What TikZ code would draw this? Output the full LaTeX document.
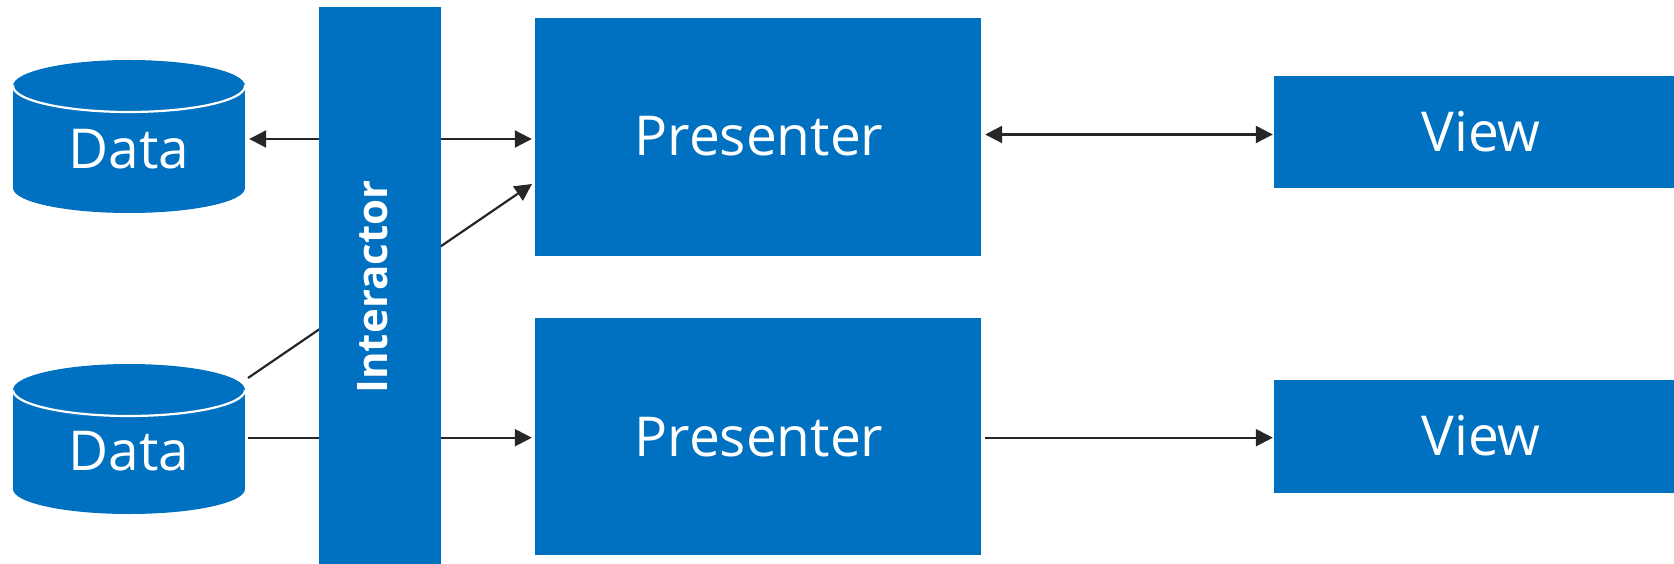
\documentclass[tikz,border=0pt]{standalone}
\usepackage{fontspec}
\setmainfont{Open Sans}
\usetikzlibrary{arrows.meta,calc}
\definecolor{mblue}{HTML}{0070C0}
\tikzset{
  box/.style={fill=mblue, inner sep=0pt, text=white},
  lbl/.style={text=white, font=\fontsize{55}{60}\selectfont, inner sep=0pt},
  conn/.style={line width=2.2pt, draw=black!85, arrows={-Triangle[length=17pt,width=17pt]}},
  dconn/.style={line width=2.2pt, draw=black!85, arrows={Triangle[length=17pt,width=17pt]-Triangle[length=17pt,width=17pt]}},
}
\newcommand{\mycyl}[5]{% name, xl, xr, ytop, ybot
  \node[inner sep=0pt, minimum width={#3-#2}, minimum height={#5-#4}] (#1) at ({(#2+#3)/2},{(#4+#5)/2}) {};
  \fill[mblue] (#2,{#4+26}) rectangle (#3,{#5-25});
  \fill[mblue] ({(#2+#3)/2},{#5-25}) ellipse ({(#3-#2)/2} and 25);
  \fill[mblue] ({(#2+#3)/2},{#4+26}) ellipse ({(#3-#2)/2} and 26);
  \begin{scope}
    \clip ({#2-3},{#4+26}) rectangle ({#3+3},{#4+60});
    \draw[white, line width=2.2pt] ({(#2+#3)/2},{#4+26}) ellipse ({(#3-#2)/2} and 26);
  \end{scope}
}
\begin{document}
\begin{tikzpicture}[x=1pt,y=-1pt]
\useasboundingbox (0,0) rectangle (1674,564);
% cylinders
\mycyl{d1}{13}{245}{60}{213}
\mycyl{d2}{13}{245}{364}{514}
\node[lbl] at (129,149) {Data};
\node[lbl] at (129,451) {Data};
% presenters and views
\node[box, minimum width=446pt, minimum height=238pt] (p1) at (758,137) {};
\node[lbl] at (759,136) {Presenter};
\node[box, minimum width=446pt, minimum height=237pt] (p2) at (758,436.5) {};
\node[lbl] at (759,437) {Presenter};
\node[box, minimum width=414pt, minimum height=112pt] (v1) at (1481,132) {};
\node[lbl] at (1481,132) {View};
\node[box, minimum width=414pt, minimum height=113pt] (v2) at (1481,436.5) {};
\node[lbl] at (1481,436) {View};
% connector endpoints
\coordinate (a1) at ($(d1.east)+(4,2.5)$);
\coordinate (b1) at ($(p1.west)+(-3,2)$);
\coordinate (a2) at (248,378);
\coordinate (b2) at (532,184);
\coordinate (a3) at ($(d2.east)+(3,-1.3)$);
\coordinate (b3) at ($(p2.west)+(-3,1.2)$);
\coordinate (c1) at ($(p1.east)+(4,-2.5)$);
\coordinate (e1) at ($(v1.west)+(-1,2.5)$);
\coordinate (c2) at ($(p2.east)+(4,1.2)$);
\coordinate (e2) at ($(v2.west)+(-1,1.2)$);
\draw[dconn] (a1) -- (b1);
\draw[conn] (a2) -- (b2);
\draw[conn] (a3) -- (b3);
\draw[dconn] (c1) -- (e1);
\draw[conn] (c2) -- (e2);
% interactor on top
\node[box, minimum width=122pt, minimum height=580pt] (int) at (380,297.5) {};
\node[text=white, inner sep=0pt, rotate=90, font=\bfseries\fontsize{42}{48}\selectfont] at (373,287) {Interactor};
\end{tikzpicture}
\end{document}
